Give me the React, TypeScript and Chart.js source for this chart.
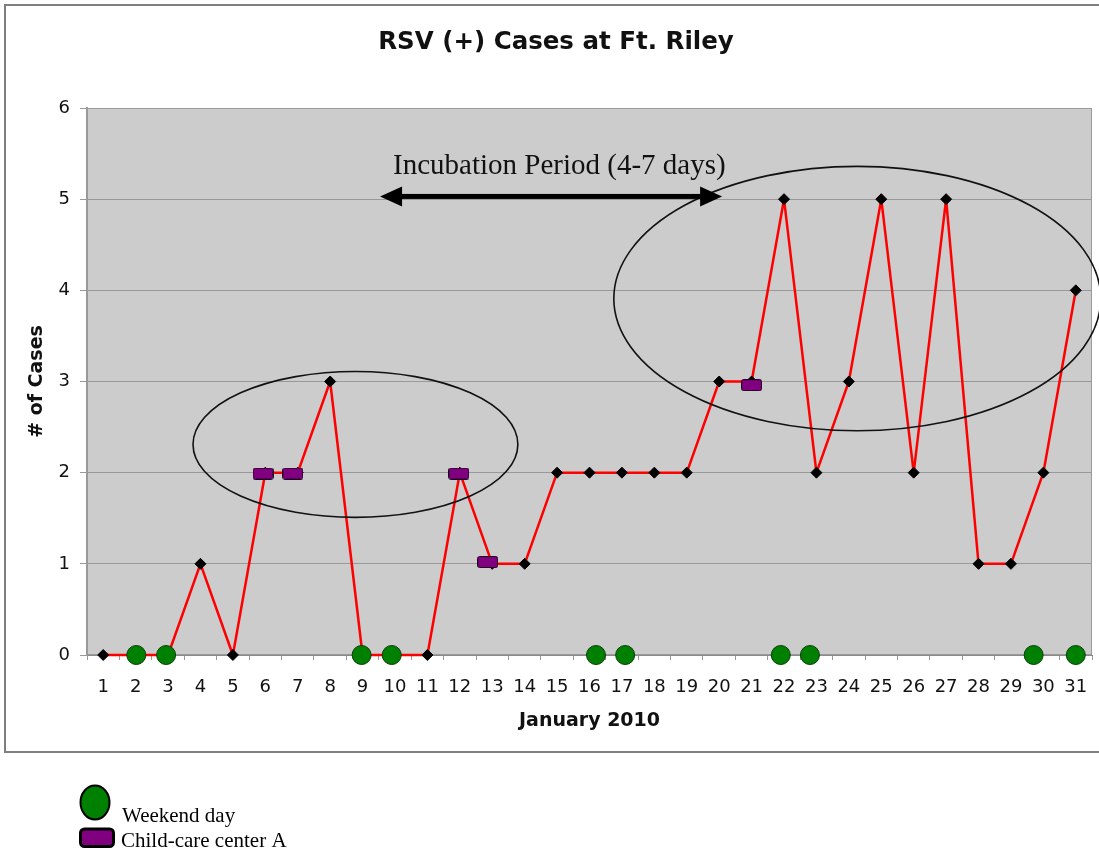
import React, { useEffect, useRef } from 'react';
import { Chart, registerables } from 'chart.js';

Chart.register(...registerables);

const dayLabels = ['1','2','3','4','5','6','7','8','9','10','11','12','13','14','15','16','17','18','19','20','21','22','23','24','25','26','27','28','29','30','31'];
const cases = [0, 0, 0, 1, 0, 2, 2, 3, 0, 0, 0, 2, 1, 1, 2, 2, 2, 2, 2, 3, 3, 5, 2, 3, 5, 2, 5, 1, 1, 2, 4];
const weekendX = [2.02, 2.94, 8.97, 9.9, 16.2, 17.1, 21.9, 22.8, 29.7, 31.0];
const weekendY = [0, 0, 0, 0, 0, 0, 0, 0, 0, 0];
const childCareX = [5.93, 6.85, 11.97, 12.86, 21.0];
const childCareY = [1.99, 1.99, 1.99, 1.02, 2.96];
const yTickValues = [0, 1, 2, 3, 4, 5, 6];

const TITLE = 'RSV (+) Cases at Ft. Riley';
const X_TITLE = 'January 2010';
const Y_TITLE = '# of Cases';
const NOTE = 'Incubation Period (4-7 days)';
const LEGEND_WEEKEND = 'Weekend day';
const LEGEND_CHILDCARE = 'Child-care center A';

function makeRectMarker(w: number, h: number, lw: number, r: number) {
  const c = document.createElement('canvas');
  c.width = w;
  c.height = h;
  const ctx = c.getContext('2d')!;
  ctx.fillStyle = '#800080';
  ctx.strokeStyle = '#1a001a';
  ctx.lineWidth = lw;
  const o = lw / 2;
  ctx.beginPath();
  (ctx as any).roundRect(o, o, w - lw, h - lw, r);
  ctx.fill();
  ctx.stroke();
  return c;
}

export default function App() {
  const ref = useRef<HTMLCanvasElement | null>(null);

  useEffect(() => {
    const canvas = ref.current!;
    const marker = makeRectMarker(21, 12, 1, 2);

    const decor = {
      id: 'decor',
      beforeDraw(chart: any) {
        const { ctx, chartArea: a } = chart;
        ctx.save();
        ctx.fillStyle = '#ffffff';
        ctx.fillRect(0, 0, chart.width, chart.height);
        ctx.strokeStyle = '#7f7f7f';
        ctx.lineWidth = 2;
        ctx.strokeRect(5, 5, 1096, 747);
        ctx.fillStyle = '#cccccc';
        ctx.fillRect(a.left, a.top, a.right - a.left, a.bottom - a.top);
        ctx.restore();
      },
      beforeDatasetsDraw(chart: any) {
        const { ctx, chartArea: a } = chart;
        ctx.save();
        ctx.strokeStyle = '#9a9a9a';
        ctx.lineWidth = 1;
        ctx.strokeRect(a.left + 0.5, a.top + 0.5, a.right - a.left - 1, a.bottom - a.top - 1);
        ctx.restore();
      },
      afterDatasetsDraw(chart: any) {
        const { ctx } = chart;
        const x2 = chart.scales.x2;
        const y = chart.scales.y;
        ctx.save();
        const ellipse = (cx: number, cy: number, rx: number, ry: number) => {
          const px = x2.getPixelForValue(cx);
          const py = y.getPixelForValue(cy);
          const prx = Math.abs(x2.getPixelForValue(cx + rx) - px);
          const pry = Math.abs(y.getPixelForValue(cy + ry) - py);
          ctx.beginPath();
          ctx.ellipse(px, py, prx, pry, 0, 0, Math.PI * 2);
          ctx.strokeStyle = '#111';
          ctx.lineWidth = 1.6;
          ctx.stroke();
        };
        ellipse(8.78, 2.31, 5.01, 0.8);
        ellipse(24.26, 3.91, 7.51, 1.45);

        // double arrow
        const ax1 = x2.getPixelForValue(9.54);
        const ax2 = x2.getPixelForValue(20.09);
        const ay = y.getPixelForValue(5.03);
        const hl = 22;
        const hh = 10;
        ctx.fillStyle = '#000';
        ctx.fillRect(ax1 + hl - 2, ay - 2.5, ax2 - ax1 - 2 * hl + 4, 5);
        ctx.beginPath();
        ctx.moveTo(ax1, ay);
        ctx.lineTo(ax1 + hl, ay - hh);
        ctx.lineTo(ax1 + hl, ay + hh);
        ctx.closePath();
        ctx.fill();
        ctx.beginPath();
        ctx.moveTo(ax2, ay);
        ctx.lineTo(ax2 - hl, ay - hh);
        ctx.lineTo(ax2 - hl, ay + hh);
        ctx.closePath();
        ctx.fill();

        ctx.font = '29px "Liberation Serif", serif';
        ctx.textAlign = 'center';
        ctx.textBaseline = 'alphabetic';
        ctx.fillStyle = '#111';
        ctx.fillText(NOTE, x2.getPixelForValue(15.07), y.getPixelForValue(5.28));
        ctx.restore();
      },
      afterDraw(chart: any) {
        const { ctx } = chart;
        ctx.save();
        // legend
        ctx.beginPath();
        ctx.ellipse(95, 802.5, 14.5, 17, 0, 0, Math.PI * 2);
        ctx.fillStyle = '#008000';
        ctx.fill();
        ctx.lineWidth = 2;
        ctx.strokeStyle = '#000';
        ctx.stroke();

        ctx.beginPath();
        (ctx as any).roundRect(80.5, 829, 33, 17.5, 4);
        ctx.fillStyle = '#800080';
        ctx.fill();
        ctx.lineWidth = 3;
        ctx.strokeStyle = '#000';
        ctx.stroke();

        ctx.fillStyle = '#000';
        ctx.font = '21px "Liberation Serif", serif';
        ctx.textAlign = 'left';
        ctx.textBaseline = 'alphabetic';
        ctx.fillText(LEGEND_WEEKEND, 122, 822);
        ctx.fillText(LEGEND_CHILDCARE, 121, 847);
        ctx.restore();
      },
    };

    const chart = new Chart(canvas, {
      type: 'line',
      data: {
        labels: dayLabels,
        datasets: [
          {
            label: LEGEND_WEEKEND,
            data: weekendX.map((x, i) => ({ x, y: weekendY[i] })),
            xAxisID: 'x2',
            showLine: false,
            clip: false,
            pointStyle: 'circle',
            pointRadius: 9.5,
            pointBackgroundColor: '#008000',
            pointBorderColor: '#0b3d0b',
            pointBorderWidth: 1,
          },
          {
            label: LEGEND_CHILDCARE,
            data: childCareX.map((x, i) => ({ x, y: childCareY[i] })),
            xAxisID: 'x2',
            showLine: false,
            clip: false,
            pointStyle: marker as any,
            pointRadius: 6,
          },
          {
            label: 'Cases',
            data: cases,
            xAxisID: 'x',
            clip: false,
            borderColor: '#ff0000',
            borderWidth: 2.5,
            borderJoinStyle: 'round',
            tension: 0,
            pointStyle: 'rectRot',
            pointRadius: 5.5,
            pointBackgroundColor: '#000',
            pointBorderColor: '#000',
            pointBorderWidth: 1,
          },
        ],
      },
      options: {
        responsive: false,
        animation: false,
        events: [],
        layout: { autoPadding: false, padding: { left: 20, top: 0, right: 7, bottom: 100 } },
        plugins: {
          legend: { display: false },
          tooltip: { enabled: false },
          title: {
            display: true,
            text: TITLE,
            color: '#111',
            font: { family: '"DejaVu Sans", sans-serif', size: 24.5, weight: 'bold' },
            padding: { top: 28.3, bottom: 50.3 },
          },
        },
        scales: {
          x: {
            type: 'category',
            offset: true,
            grid: {
              offset: true,
              drawOnChartArea: false,
              drawTicks: true,
              tickLength: 5,
              color: '#999',
            },
            border: { display: true, color: '#8a8a8a', width: 1 },
            ticks: {
              color: '#111',
              font: { family: '"DejaVu Sans", sans-serif', size: 18, lineHeight: '46px' },
              padding: 4,
              maxRotation: 0,
              autoSkip: false,
            },
            title: {
              display: true,
              text: X_TITLE,
              color: '#111',
              font: { family: '"DejaVu Sans", sans-serif', size: 19, weight: 'bold' },
              padding: { top: 0, bottom: 21.6 },
            },
            afterFit(scale: any) {
              scale.height = 99;
              scale.paddingLeft = 0;
              scale.paddingRight = 0;
            },
          },
          x2: {
            type: 'linear',
            display: false,
            min: 0.5,
            max: 31.5,
            afterFit(scale: any) {
              scale.paddingLeft = 0;
              scale.paddingRight = 0;
            },
          },
          y: {
            type: 'linear',
            min: 0,
            max: 6,
            afterBuildTicks(scale: any) {
              scale.ticks = yTickValues.map((v) => ({ value: v }));
            },
            grid: {
              color: '#999',
              lineWidth: 1,
              drawTicks: true,
              tickLength: 7,
            },
            border: { display: true, color: '#999', width: 2 },
            ticks: {
              color: '#111',
              font: { family: '"DejaVu Sans", sans-serif', size: 18 },
              padding: 10,
            },
            title: {
              display: true,
              text: Y_TITLE,
              color: '#111',
              font: { family: '"DejaVu Sans", sans-serif', size: 19, weight: 'bold' },
              padding: { top: 5.6, bottom: 0 },
            },
            afterFit(scale: any) {
              scale.width = 67;
              scale.paddingTop = 0;
              scale.paddingBottom = 0;
            },
          },
        },
      },
      plugins: [decor],
    } as any);

    return () => chart.destroy();
  }, []);

  return (
    <div style={{ position: 'absolute', left: 0, top: 0, width: 1099, height: 854 }}>
      <canvas ref={ref} width={1099} height={854} style={{ display: 'block', width: 1099, height: 854 }} />
    </div>
  );
}
